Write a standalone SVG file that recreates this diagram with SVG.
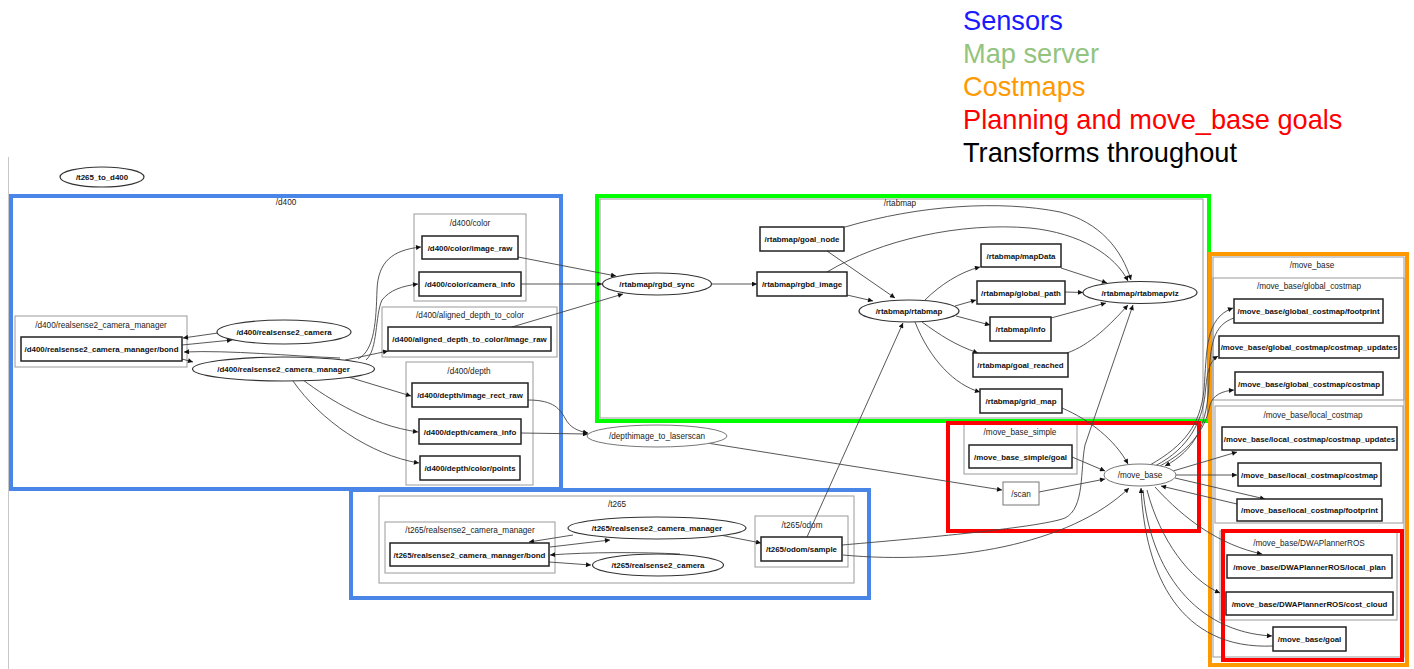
<svg xmlns="http://www.w3.org/2000/svg" width="1414" height="669" viewBox="0 0 1414 669">
<style>
text{font-family:"Liberation Sans",Arial,sans-serif}
.lg{font-size:27.2px}
.cl{fill:none;stroke:#9a9a9a;stroke-width:1}
.cll{font-size:8.2px;fill:#222;text-anchor:middle}
.bx{fill:#fff;stroke:#222;stroke-width:1.5}
.el{fill:#fff;stroke:#333;stroke-width:1.2}
.lt{fill:#fff;stroke:#777;stroke-width:1}
.nl{font-size:7.9px;font-weight:bold;fill:#111;text-anchor:middle}
.nll{font-size:8.2px;fill:#222;text-anchor:middle}
.hb{fill:none;stroke:#4a86e8;stroke-width:4}
.hg{fill:none;stroke:#00ff00;stroke-width:4}
.hr{fill:none;stroke:#ff0000;stroke-width:4}
.ho{fill:none;stroke:#ff9900;stroke-width:4}
.ed path{fill:none;stroke:#444;stroke-width:0.9;marker-end:url(#ah)}
</style>
<defs>
<marker id="ah" viewBox="0 0 10 10" refX="10" refY="5" markerWidth="7" markerHeight="5" orient="auto" markerUnits="userSpaceOnUse"><path d="M0,0L10,5L0,10z" fill="#111"/></marker>
</defs>
<rect width="1414" height="669" fill="#fff"/>
<g id="legend">
<text class="lg" x="963" y="30" fill="#1a1aff">Sensors</text>
<text class="lg" x="963" y="63" fill="#93c47d">Map server</text>
<text class="lg" x="963" y="96" fill="#ff9900">Costmaps</text>
<text class="lg" x="963" y="129" fill="#ff0000">Planning and move_base goals</text>
<text class="lg" x="963" y="162" fill="#000">Transforms throughout</text>
</g>
<line x1="8.5" y1="157" x2="8.5" y2="669" stroke="#c8c8c8" stroke-width="1"/>
<g id="clusters">
<text class="cll" x="286" y="205">/d400</text>
<rect class="cl" x="600" y="199" width="603" height="219"/><text class="cll" x="900" y="206">/rtabmap</text>
<rect class="cl" x="964" y="424" width="113" height="50"/><text class="cll" x="1020" y="435">/move_base_simple</text>
<rect class="cl" x="379" y="496" width="475" height="87"/><text class="cll" x="617" y="507">/t265</text>
<rect class="cl" x="385" y="522" width="170" height="51"/><text class="cll" x="470" y="533">/t265/realsense2_camera_manager</text>
<rect class="cl" x="755" y="516" width="93" height="51"/><text class="cll" x="802" y="528">/t265/odom</text>
<rect class="cl" x="15" y="316" width="172" height="51"/><text class="cll" x="101" y="328">/d400/realsense2_camera_manager</text>
<rect class="cl" x="414" y="214" width="112" height="87"/><text class="cll" x="470" y="226">/d400/color</text>
<rect class="cl" x="382" y="307" width="175" height="50"/><text class="cll" x="470" y="318">/d400/aligned_depth_to_color</text>
<rect class="cl" x="406" y="362" width="127" height="123"/><text class="cll" x="469" y="374">/d400/depth</text>
<rect class="cl" x="1213" y="257" width="191" height="400"/><text class="cll" x="1312" y="268">/move_base</text>
<rect class="cl" x="1213" y="278" width="191" height="122"/><text class="cll" x="1309" y="289">/move_base/global_costmap</text>
<rect class="cl" x="1215" y="406" width="188" height="117"/><text class="cll" x="1313" y="418">/move_base/local_costmap</text>
<rect class="cl" x="1220" y="531" width="177" height="89"/><text class="cll" x="1309" y="546">/move_base/DWAPlannerROS</text>
</g>
<g id="highlights">
<rect class="hb" x="11" y="196" width="550" height="293"/>
<rect class="hg" x="597" y="196" width="612" height="225"/>
<rect class="hr" x="948" y="423" width="251" height="108"/>
<rect class="hb" x="351" y="490" width="518" height="108"/>
<rect class="ho" x="1210" y="254" width="197" height="411"/>
<rect class="hr" x="1223" y="531" width="179" height="129"/>
</g>
<g id="connectors" class="ed">
<path d="M182,345 L232,340"/>
<path d="M218,333 L183,338"/>
<path d="M340,358 C290,356 230,350 184,352"/>
<path d="M182,359 L193,362"/>
<path d="M358,359 C375,350 376,320 377,290 C378,262 392,250 421,247"/>
<path d="M366,360 C378,350 375,315 382,300 C390,290 402,286 418,284"/>
<path d="M345,360 C360,357 374,354 388,351"/>
<path d="M345,376 L411,396"/>
<path d="M303,380 C330,400 370,425 418,432"/>
<path d="M293,381 C320,420 370,455 419,463"/>
<path d="M518,257 L616,276"/>
<path d="M521,284 L602,284"/>
<path d="M512,327 L623,294"/>
<path d="M528,400 C555,400 560,410 565,418 C570,428 578,431 588,433"/>
<path d="M521,433 L588,434"/>
<path d="M707,443 L1002,490"/>
<path d="M711,284 L757,284"/>
<path d="M847,295 L873,301"/>
<path d="M827,251 L895,298"/>
<path d="M845,227 C920,205 1000,200 1060,212 C1100,222 1122,250 1131,280"/>
<path d="M827,272 C880,240 960,222 1030,228 C1080,233 1115,255 1128,281"/>
<path d="M925,300 C940,285 960,272 980,267"/>
<path d="M955,306 L976,300"/>
<path d="M956,316 L990,325"/>
<path d="M922,322 C940,335 955,345 978,353"/>
<path d="M915,322 C930,360 955,385 980,392"/>
<path d="M1061,268 L1107,283"/>
<path d="M1065,292 L1083,292.5"/>
<path d="M1051,318 L1106,303"/>
<path d="M1067,353 C1090,345 1110,325 1128,305"/>
<path d="M807,537 L903,323"/>
<path d="M842,545 C900,540 1040,528 1065,518 C1085,508 1080,470 1085,445 L1133,305"/>
<path d="M843,555 C950,565 1070,545 1129,488"/>
<path d="M1039,492 L1105,479"/>
<path d="M1072,457 L1105,471"/>
<path d="M1062,408 C1090,420 1115,440 1128,464"/>
<path d="M1150,465 C1185,445 1200,425 1204,390 C1207,350 1205,318 1233,308"/>
<path d="M1234,318 C1213,325 1210,345 1209,380 C1208,425 1195,450 1165,466"/>
<path d="M1155,466 C1190,448 1202,420 1205,395 C1207,375 1208,362 1218,356"/>
<path d="M1158,467 C1195,448 1206,425 1210,405 C1213,395 1222,391 1234,390"/>
<path d="M1173,471 L1237,452"/>
<path d="M1176,475 L1237,475"/>
<path d="M1175,478 L1265,499"/>
<path d="M1237,504 L1161,486"/>
<path d="M1155,487 C1185,520 1220,545 1262,554"/>
<path d="M1147,490 C1160,540 1190,580 1220,593"/>
<path d="M1143,490 C1150,570 1195,632 1272,636"/>
<path d="M1273,646 C1180,650 1145,575 1141,488"/>
<path d="M550,547 L610,540"/>
<path d="M573,535 L529,542"/>
<path d="M680,554 C640,552 590,552 550,555"/>
<path d="M549,562 L591,565"/>
<path d="M720,535 L761,543"/>
</g>
<g id="n_t265_to_d400"><ellipse class="el" cx="102" cy="177" rx="42" ry="10"/><text class="nl" x="102" y="180">/t265_to_d400</text></g>
<g id="n_d400_bond"><rect class="bx" x="21" y="337" width="161" height="24"/><text class="nl" x="101.5" y="352">/d400/realsense2_camera_manager/bond</text></g>
<g id="n_d400_camera"><ellipse class="el" cx="284" cy="332" rx="67" ry="12"/><text class="nl" x="284" y="335">/d400/realsense2_camera</text></g>
<g id="n_d400_manager"><ellipse class="el" cx="283.5" cy="369" rx="91" ry="12"/><text class="nl" x="283.5" y="372">/d400/realsense2_camera_manager</text></g>
<g id="n_d400_color_image_raw"><rect class="bx" x="422" y="236" width="96" height="23"/><text class="nl" x="470" y="250.5">/d400/color/image_raw</text></g>
<g id="n_d400_color_camera_info"><rect class="bx" x="419" y="272" width="102" height="24"/><text class="nl" x="470" y="287">/d400/color/camera_info</text></g>
<g id="n_d400_aligned_image_raw"><rect class="bx" x="388" y="327" width="163" height="24"/><text class="nl" x="469.5" y="342">/d400/aligned_depth_to_color/image_raw</text></g>
<g id="n_d400_depth_image_rect_raw"><rect class="bx" x="412" y="383" width="116" height="24"/><text class="nl" x="470" y="398">/d400/depth/image_rect_raw</text></g>
<g id="n_d400_depth_camera_info"><rect class="bx" x="419" y="419" width="102" height="25"/><text class="nl" x="470" y="434.5">/d400/depth/camera_info</text></g>
<g id="n_d400_depth_color_points"><rect class="bx" x="420" y="456" width="100" height="24"/><text class="nl" x="470" y="471">/d400/depth/color/points</text></g>
<g id="n_rgbd_sync"><ellipse class="el" cx="657" cy="284" rx="54.5" ry="11"/><text class="nl" x="657" y="287">/rtabmap/rgbd_sync</text></g>
<g id="n_goal_node"><rect class="bx" x="760" y="227" width="84" height="24"/><text class="nl" x="802" y="242">/rtabmap/goal_node</text></g>
<g id="n_rgbd_image"><rect class="bx" x="757" y="272" width="90" height="24"/><text class="nl" x="802" y="287">/rtabmap/rgbd_image</text></g>
<g id="n_rtabmap"><ellipse class="el" cx="909" cy="311" rx="50" ry="11"/><text class="nl" x="909" y="314">/rtabmap/rtabmap</text></g>
<g id="n_mapData"><rect class="bx" x="981" y="244" width="80" height="23"/><text class="nl" x="1021" y="258.5">/rtabmap/mapData</text></g>
<g id="n_global_path"><rect class="bx" x="977" y="281" width="88" height="23"/><text class="nl" x="1021" y="295.5">/rtabmap/global_path</text></g>
<g id="n_info"><rect class="bx" x="990" y="317" width="61" height="24"/><text class="nl" x="1020.5" y="332">/rtabmap/info</text></g>
<g id="n_goal_reached"><rect class="bx" x="973" y="353" width="95" height="24"/><text class="nl" x="1020.5" y="368">/rtabmap/goal_reached</text></g>
<g id="n_grid_map"><rect class="bx" x="980" y="389" width="82" height="24"/><text class="nl" x="1021" y="404">/rtabmap/grid_map</text></g>
<g id="n_rtabmapviz"><ellipse class="el" cx="1140" cy="292.5" rx="57" ry="11"/><text class="nl" x="1140" y="295.5">/rtabmap/rtabmapviz</text></g>
<g id="n_depthimage"><ellipse class="lt" cx="657" cy="436" rx="70" ry="11"/><text class="nll" x="657" y="439">/depthimage_to_laserscan</text></g>
<g id="n_mbs_goal"><rect class="bx" x="969" y="445" width="103" height="23"/><text class="nl" x="1020.5" y="459.5">/move_base_simple/goal</text></g>
<g id="n_scan"><rect class="lt" x="1003" y="482" width="36" height="23"/><text class="nll" x="1021" y="496.5">/scan</text></g>
<g id="n_move_base"><ellipse class="lt" cx="1140" cy="475" rx="36" ry="11"/><text class="nll" x="1140" y="478">/move_base</text></g>
<g id="n_t265_bond"><rect class="bx" x="390" y="543" width="159" height="23"/><text class="nl" x="469.5" y="557.5">/t265/realsense2_camera_manager/bond</text></g>
<g id="n_t265_manager"><ellipse class="el" cx="657" cy="528" rx="89" ry="11"/><text class="nl" x="657" y="531">/t265/realsense2_camera_manager</text></g>
<g id="n_t265_camera"><ellipse class="el" cx="658" cy="565" rx="65.5" ry="11"/><text class="nl" x="658" y="568">/t265/realsense2_camera</text></g>
<g id="n_t265_odom_sample"><rect class="bx" x="761" y="537" width="81" height="24"/><text class="nl" x="801.5" y="552">/t265/odom/sample</text></g>
<g id="n_g_footprint"><rect class="bx" x="1234" y="299" width="149" height="24"/><text class="nl" x="1308.5" y="314">/move_base/global_costmap/footprint</text></g>
<g id="n_g_costmap_updates"><rect class="bx" x="1219" y="336" width="180" height="22"/><text class="nl" x="1309" y="350">/move_base/global_costmap/costmap_updates</text></g>
<g id="n_g_costmap"><rect class="bx" x="1235" y="372" width="148" height="23"/><text class="nl" x="1309" y="386.5">/move_base/global_costmap/costmap</text></g>
<g id="n_l_costmap_updates"><rect class="bx" x="1222" y="427" width="175" height="23"/><text class="nl" x="1309.5" y="441.5">/move_base/local_costmap/costmap_updates</text></g>
<g id="n_l_costmap"><rect class="bx" x="1238" y="463" width="143" height="23"/><text class="nl" x="1309.5" y="477.5">/move_base/local_costmap/costmap</text></g>
<g id="n_l_footprint"><rect class="bx" x="1237" y="499" width="145" height="22"/><text class="nl" x="1309.5" y="513">/move_base/local_costmap/footprint</text></g>
<g id="n_local_plan"><rect class="bx" x="1227" y="555" width="165" height="23"/><text class="nl" x="1309.5" y="569.5">/move_base/DWAPlannerROS/local_plan</text></g>
<g id="n_cost_cloud"><rect class="bx" x="1226" y="592" width="167" height="23"/><text class="nl" x="1309.5" y="606.5">/move_base/DWAPlannerROS/cost_cloud</text></g>
<g id="n_mb_goal"><rect class="bx" x="1273" y="627" width="73" height="24"/><text class="nl" x="1309.5" y="642">/move_base/goal</text></g>
</svg>
